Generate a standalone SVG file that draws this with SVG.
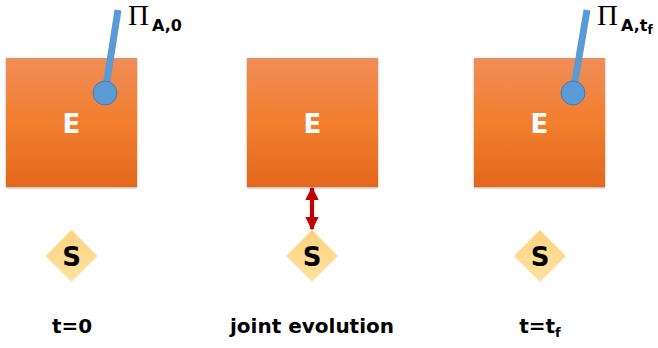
<svg xmlns="http://www.w3.org/2000/svg" width="658" height="348" viewBox="0 0 658 348">
  <defs>
    <linearGradient id="boxFill" x1="0" y1="0" x2="0" y2="1">
      <stop offset="0" stop-color="#F08D58"/>
      <stop offset="0.5" stop-color="#F27E2E"/>
      <stop offset="1" stop-color="#E3681C"/>
    </linearGradient>
    <linearGradient id="diaFill" x1="0" y1="0" x2="0" y2="1">
      <stop offset="0" stop-color="#FFD27C"/>
      <stop offset="1" stop-color="#FFE2A4"/>
    </linearGradient>
    <filter id="shadow" x="-10%" y="-10%" width="120%" height="120%">
      <feGaussianBlur in="SourceAlpha" stdDeviation="1.2"/>
      <feOffset dx="0" dy="0.5" result="b"/>
      <feComponentTransfer><feFuncA type="linear" slope="0.35"/></feComponentTransfer>
      <feMerge><feMergeNode/><feMergeNode in="SourceGraphic"/></feMerge>
    </filter>
    <marker id="redHead" viewBox="0 0 10 10" refX="9" refY="5" markerWidth="3.2" markerHeight="3.4" orient="auto-start-reverse" markerUnits="strokeWidth">
      <path d="M0,0 L10,5 L0,10 Z" fill="#C00000"/>
    </marker>
    <style>
      .box { fill: url(#boxFill); filter: url(#shadow); }
      .dia { fill: url(#diaFill); }
      .big { font-family: "DejaVu Sans", Verdana, sans-serif; font-weight: bold; text-anchor: middle; }
      .e { fill: #FFFFFF; font-size: 26px; }
      .s { fill: #000000; font-size: 26px; }
      .lbl { fill: #000000; font-size: 20px; }
      .pi { font-family: "Liberation Serif", "Times New Roman", serif; font-size: 29px; fill: #000; }
      .sub { font-family: "DejaVu Sans", Verdana, sans-serif; font-weight: bold; font-size: 16px; fill: #000; }
      .stick { stroke: #5B9BD5; stroke-width: 7; stroke-linecap: butt; }
      .knob { fill: #5B9BD5; stroke: #41719C; stroke-width: 0.8; }
    </style>
  </defs>

  <rect width="658" height="348" fill="#FFFFFF"/>

  <!-- environment + apparatus at t = 0 -->
  <g id="env-start">
    <rect class="box" x="6" y="58" width="131" height="129"/>
    <text class="big e" x="71.5" y="132.5">E</text>
    <line class="stick" x1="118" y1="10" x2="105" y2="93"/>
    <circle class="knob" cx="105" cy="93" r="12"/>
    <text class="pi" x="128" y="25">Π</text>
    <text class="sub" x="152" y="31">A,0</text>
  </g>

  <!-- environment during joint evolution -->
  <g id="env-mid">
    <rect class="box" x="247" y="58" width="131" height="129"/>
    <text class="big e" x="312.5" y="132.5">E</text>
  </g>

  <!-- environment + apparatus at t = tf -->
  <g id="env-end">
    <rect class="box" x="474" y="58" width="131" height="129"/>
    <text class="big e" x="539.5" y="132.5">E</text>
    <line class="stick" x1="587" y1="10" x2="573" y2="93"/>
    <circle class="knob" cx="573" cy="93" r="12"/>
    <text class="pi" x="597" y="25">Π</text>
    <text class="sub" x="621" y="31">A,t<tspan font-size="12" dy="3">f</tspan></text>
  </g>

  <!-- systems -->
  <g id="sys-start">
    <path class="dia" d="M71.5,230 L97.5,256 L71.5,282 L45.5,256 Z"/>
    <text class="big s" x="71.5" y="265.5">S</text>
  </g>
  <g id="sys-mid">
    <path class="dia" d="M312,230 L338,256 L312,282 L286,256 Z"/>
    <text class="big s" x="312" y="265.5">S</text>
  </g>
  <g id="sys-end">
    <path class="dia" d="M540,230 L566,256 L540,282 L514,256 Z"/>
    <text class="big s" x="540" y="265.5">S</text>
  </g>

  <!-- interaction between E and S -->
  <g id="connectors">
    <line x1="312" y1="188" x2="312" y2="229" stroke="#C00000" stroke-width="4.2" marker-start="url(#redHead)" marker-end="url(#redHead)"/>
  </g>

  <!-- time labels -->
  <g id="labels">
    <text class="big lbl" x="72" y="333">t=0</text>
    <text class="big lbl" x="312" y="333">joint evolution</text>
    <text class="big lbl" x="540" y="333">t=t<tspan font-size="13" dy="4">f</tspan></text>
  </g>
</svg>
